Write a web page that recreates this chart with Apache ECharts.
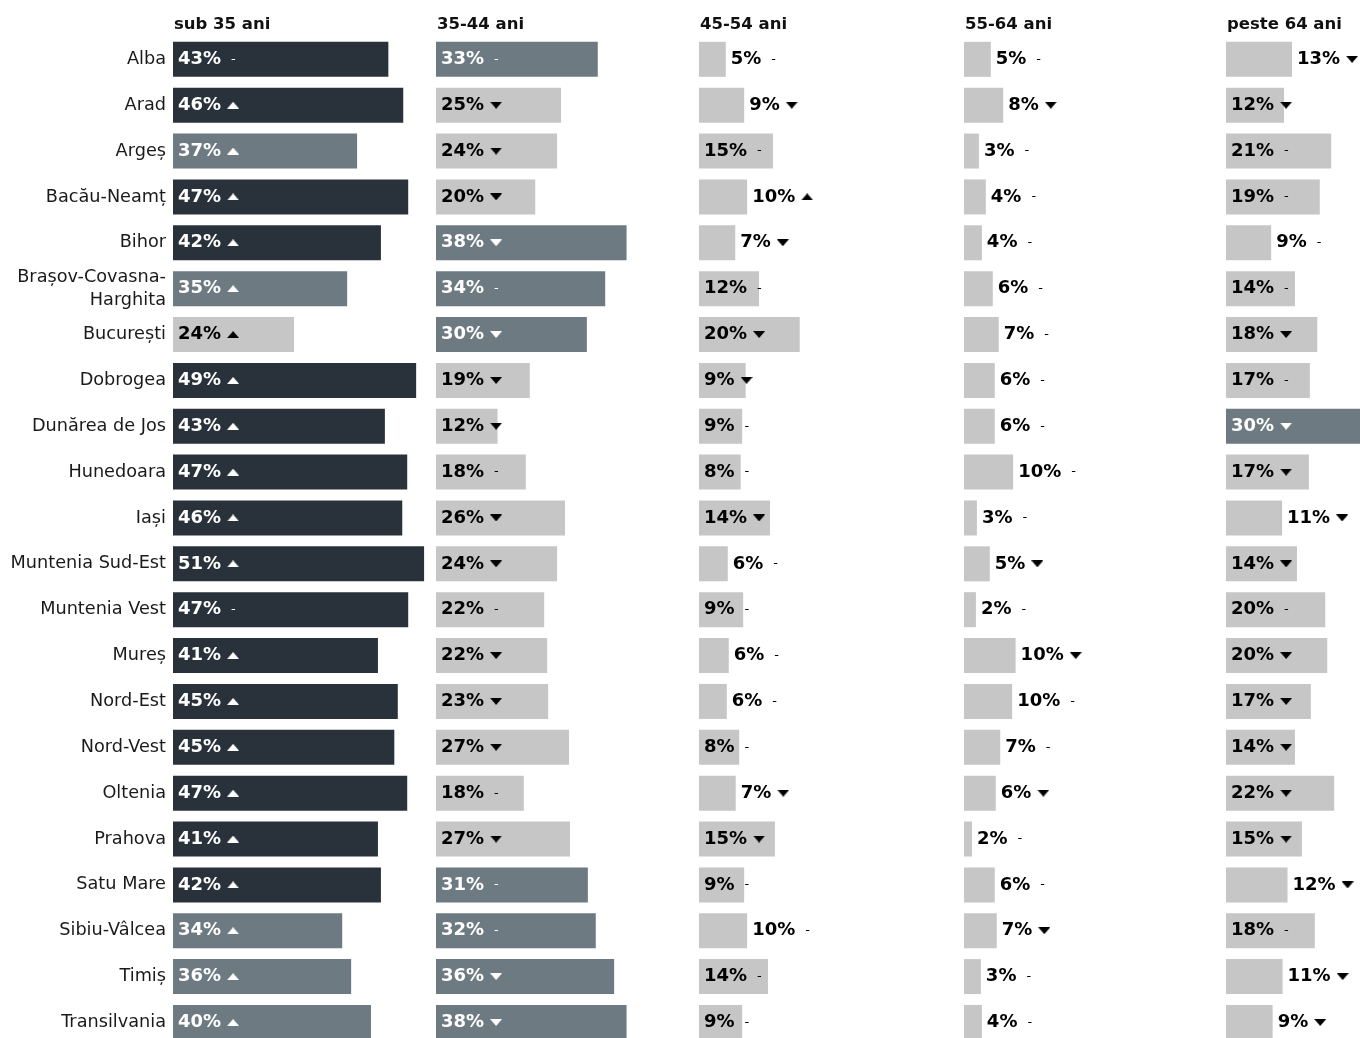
<!DOCTYPE html>
<html>
<head>
<meta charset="utf-8">
<script src="https://cdn.jsdelivr.net/npm/echarts@6/dist/echarts.min.js"></script>
<style>
  html, body { margin: 0; padding: 0; background: #fff; }
  #main { width: 1360px; height: 1038px; }
</style>
</head>
<body>
<div id="main"></div>
<script>
// regiuni (randuri)
const regions = ['Alba', 'Arad', 'Argeș', 'Bacău-Neamț', 'Bihor', 'Brașov-Covasna-Harghita', 'București',
  'Dobrogea', 'Dunărea de Jos', 'Hunedoara', 'Iași', 'Muntenia Sud-Est', 'Muntenia Vest', 'Mureș',
  'Nord-Est', 'Nord-Vest', 'Oltenia', 'Prahova', 'Satu Mare', 'Sibiu-Vâlcea', 'Timiș', 'Transilvania'];

// grupe de varsta (coloane)
const ageGroups = ['sub 35 ani', '35-44 ani', '45-54 ani', '55-64 ani', 'peste 64 ani'];

// procente, citite dupa lungimea barelor
const sub35 =   [43.4, 46.4, 37.1, 47.4, 41.9, 35.1, 24.4, 49.0, 42.7, 47.2, 46.2, 50.6, 47.4, 41.3, 45.3, 44.6, 47.2, 41.3, 41.9, 34.1, 35.9, 39.9];
const age3544 = [32.6, 25.2, 24.4, 20.0, 38.4, 34.1, 30.4, 18.9, 12.4, 18.1, 26.0, 24.4, 21.8, 22.4, 22.6, 26.8, 17.7, 27.0, 30.6, 32.2, 35.9, 38.4];
const age4554 = [5.4, 9.1, 14.9, 9.7, 7.3, 12.1, 20.3, 9.4, 8.7, 8.4, 14.3, 5.8, 8.9, 6.0, 5.6, 8.1, 7.4, 15.3, 9.1, 9.7, 13.9, 8.7];
const age5564 = [5.4, 7.9, 3.0, 4.4, 3.6, 5.8, 7.0, 6.2, 6.2, 9.9, 2.6, 5.2, 2.4, 10.4, 9.7, 7.3, 6.4, 1.6, 6.2, 6.6, 3.4, 3.6];
const over64 =  [13.3, 11.7, 21.2, 18.9, 9.1, 13.9, 18.4, 16.9, 30.0, 16.7, 11.3, 14.3, 20.0, 20.4, 17.1, 13.9, 21.8, 15.3, 12.4, 17.9, 11.4, 9.4];

// tendinta: u = crestere, d = scadere, f = fara schimbare
const trend35 =   ['f','u','u','u','u','u','u','u','u','u','u','u','f','u','u','u','u','u','u','u','u','u'];
const trend3544 = ['f','d','d','d','d','f','d','d','d','f','d','d','f','d','d','d','f','d','f','f','d','d'];
const trend4554 = ['f','d','f','u','d','f','d','d','f','f','d','f','f','f','f','f','d','d','f','f','f','f'];
const trend5564 = ['f','d','f','f','f','f','f','f','f','f','f','d','f','d','f','f','d','f','f','d','f','f'];
const trend64 =   ['d','d','f','f','f','f','d','f','d','d','d','d','f','d','d','d','d','d','d','f','d','d'];

// eticheta in afara barei
const labelOutside = [
  [],
  [],
  ['Alba', 'Arad', 'Bacău-Neamț', 'Bihor', 'Muntenia Sud-Est', 'Mureș', 'Nord-Est', 'Oltenia', 'Sibiu-Vâlcea'],
  regions,
  ['Alba', 'Bihor', 'Iași', 'Satu Mare', 'Timiș', 'Transilvania']
];

const columns = [sub35, age3544, age4554, age5564, over64];
const trends = [trend35, trend3544, trend4554, trend5564, trend64];

const DARK = '#29323a', MID = '#6d7a81', LIGHT = '#c6c6c6';
const lefts = [173, 436, 699, 964, 1226];
const FONT = 'DejaVu Sans';

function barColor(v) {
  const r = Math.round(v);
  if (r > 40) return DARK;
  if (r >= 30) return MID;
  return LIGHT;
}

// triunghiuri mici pentru tendinta
function tri(up, color) {
  const c = document.createElement('canvas');
  c.width = 12; c.height = 7;
  const ctx = c.getContext('2d');
  ctx.fillStyle = color;
  ctx.beginPath();
  if (up) { ctx.moveTo(0, 7); ctx.lineTo(6, 0); ctx.lineTo(12, 7); }
  else { ctx.moveTo(0, 0); ctx.lineTo(12, 0); ctx.lineTo(6, 7); }
  ctx.closePath();
  ctx.fill();
  return c;
}

const rich = {
  v: { fontFamily: FONT, fontWeight: 'bold', fontSize: 18 },
  sp: { width: 6 },
  dsp: { width: 10 },
  dash: { fontFamily: FONT, fontWeight: 'normal', fontSize: 13 },
  uW: { width: 12, height: 7, backgroundColor: { image: tri(true, '#fff') } },
  uK: { width: 12, height: 7, backgroundColor: { image: tri(true, '#000') } },
  dW: { width: 12, height: 7, backgroundColor: { image: tri(false, '#fff') } },
  dK: { width: 12, height: 7, backgroundColor: { image: tri(false, '#000') } }
};

const grids = [], xAxes = [], yAxes = [], series = [], titles = [];

columns.forEach((vals, c) => {
  grids.push({ left: lefts[c], top: 36.4, width: 263, height: 1009, outerBoundsMode: 'none' });
  xAxes.push({ gridIndex: c, type: 'value', min: 0, max: 53, show: false });
  yAxes.push({
    gridIndex: c, type: 'category', data: regions, inverse: true,
    axisLine: { show: false }, axisTick: { show: false }, splitLine: { show: false },
    axisLabel: {
      show: c === 0, margin: 7, color: '#1a1a1a', fontFamily: FONT, fontSize: 17.7, lineHeight: 23,
      padding: [4, 0, 0, 0],
      formatter: v => v === 'Brașov-Covasna-Harghita' ? 'Brașov-Covasna-\nHarghita' : v
    }
  });
  titles.push({
    text: ageGroups[c], left: lefts[c] + 1, top: 16, padding: 0,
    textStyle: { fontFamily: FONT, fontWeight: 'bold', fontSize: 16.5, color: '#111' }
  });
  series.push({
    type: 'bar', xAxisIndex: c, yAxisIndex: c, barWidth: 35, animation: false, clip: false,
    data: vals.map((v, i) => {
      const col = barColor(v);
      const out = labelOutside[c].indexOf(regions[i]) >= 0;
      const white = !out && col !== LIGHT;
      const t = trends[c][i];
      let mark;
      if (t === 'u') mark = '{sp| }{' + (white ? 'uW' : 'uK') + '| }';
      else if (t === 'd') mark = '{sp| }{' + (white ? 'dW' : 'dK') + '| }';
      else mark = '{dsp| }{dash|-}';
      return {
        value: v,
        itemStyle: { color: col },
        label: {
          show: true,
          position: out ? 'right' : 'insideLeft',
          distance: 5,
          color: white ? '#fff' : '#000',
          formatter: '{v|' + Math.round(v) + '%}' + mark,
          rich: rich
        }
      };
    })
  });
});

const chart = echarts.init(document.getElementById('main'));
chart.setOption({
  animation: false,
  title: titles,
  grid: grids,
  xAxis: xAxes,
  yAxis: yAxes,
  series: series
});
</script>
</body>
</html>
